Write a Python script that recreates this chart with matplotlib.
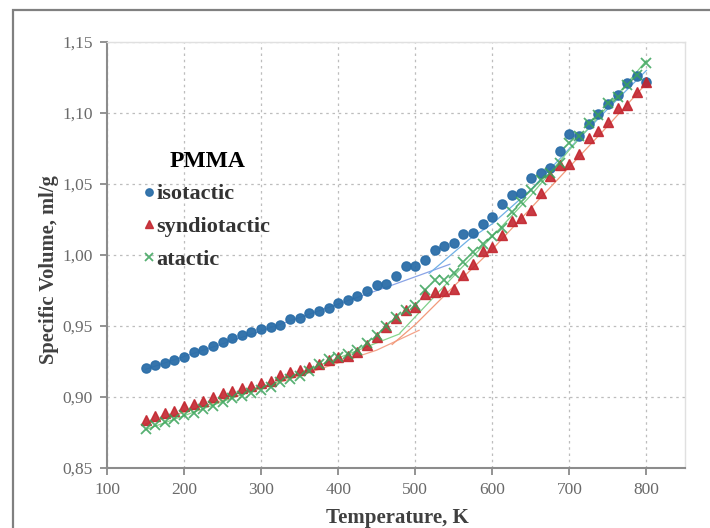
import numpy as np
import matplotlib
matplotlib.use('Agg')
import matplotlib.pyplot as plt
from matplotlib.patches import Rectangle
from matplotlib.ticker import FuncFormatter

# Temperature grid (K)
temps = [150, 162.5, 175, 187.5, 200, 212.5, 225, 237.5, 250, 262.5, 275, 287.5,
         300, 312.5, 325, 337.5, 350, 362.5, 375, 387.5, 400, 412.5, 425, 437.5,
         450, 462.5, 475, 487.5, 500, 512.5, 525, 537.5, 550, 562.5, 575, 587.5,
         600, 612.5, 625, 637.5, 650, 662.5, 675, 687.5, 700, 712.5, 725, 737.5,
         750, 762.5, 775, 787.5, 800]

isotactic = [0.9206, 0.9225, 0.9237, 0.9260, 0.9280, 0.9320, 0.9330, 0.9360, 0.9390,
             0.9413, 0.9437, 0.9460, 0.9477, 0.9495, 0.9507, 0.9547, 0.9554, 0.9594,
             0.9608, 0.9625, 0.9660, 0.9683, 0.9713, 0.9749, 0.9789, 0.9796, 0.9850,
             0.9920, 0.9920, 0.9965, 1.0035, 1.0063, 1.0087, 1.0146, 1.0153, 1.0218,
             1.0270, 1.0360, 1.0420, 1.0439, 1.0540, 1.0580, 1.0610, 1.0730, 1.0850,
             1.0838, 1.0920, 1.0990, 1.1060, 1.1130, 1.1210, 1.1260, 1.1220]

syndiotactic = [0.8835, 0.8865, 0.8885, 0.8905, 0.8935, 0.8950, 0.8970, 0.9000, 0.9030,
                0.9045, 0.9060, 0.9080, 0.9100, 0.9115, 0.9155, 0.9175, 0.9190, 0.9210,
                0.9235, 0.9260, 0.9285, 0.9290, 0.9320, 0.9365, 0.9420, 0.9490, 0.9555,
                0.9610, 0.9635, 0.9725, 0.9742, 0.9748, 0.9762, 0.9860, 0.9940, 1.0028,
                1.0056, 1.0140, 1.0242, 1.0258, 1.0317, 1.0435, 1.0553, 1.0634, 1.0643,
                1.0709, 1.0825, 1.0875, 1.0935, 1.1033, 1.1056, 1.1150, 1.1220]

atactic = [0.8775, 0.8800, 0.8825, 0.8845, 0.8870, 0.8890, 0.8915, 0.8940, 0.8965,
           0.8990, 0.9010, 0.9030, 0.9050, 0.9070, 0.9105, 0.9125, 0.9150, 0.9180,
           0.9230, 0.9265, 0.9285, 0.9300, 0.9330, 0.9380, 0.9435, 0.9500, 0.9565,
           0.9615, 0.9645, 0.9754, 0.9824, 0.9826, 0.9870, 0.9953, 1.0023, 1.0076,
           1.0134, 1.0188, 1.0305, 1.0375, 1.0458, 1.0528, 1.0575, 1.0650, 1.0790,
           1.0840, 1.0927, 1.0986, 1.1068, 1.1115, 1.1197, 1.1268, 1.1354]

# thin fit lines (glass and melt branches), vertices
iso_glass_t = [150, 300, 466, 545]
iso_glass_v = [0.9195, 0.9465, 0.9780, 0.9935]
iso_melt_t = [518, 570, 600, 650, 700, 750, 800]
iso_melt_v = [0.9870, 1.0110, 1.0220, 1.0460, 1.0750, 1.1030, 1.1300]

syn_glass_t = [150, 300, 450, 505]
syn_glass_v = [0.8810, 0.9060, 0.9330, 0.9470]
syn_melt_t = [470, 500, 550, 600, 650, 700, 750, 800]
syn_melt_v = [0.9370, 0.9510, 0.9780, 1.0040, 1.0330, 1.0620, 1.0910, 1.1210]

ata_glass_t = [150, 325, 480]
ata_glass_v = [0.8770, 0.9115, 0.9445]
ata_melt_t = [480, 520, 560, 600, 650, 700, 750, 800]
ata_melt_v = [0.9450, 0.9680, 0.9910, 1.0130, 1.0420, 1.0740, 1.1050, 1.1370]

x_ticks = [100, 200, 300, 400, 500, 600, 700, 800]
y_ticks = [0.85, 0.90, 0.95, 1.00, 1.05, 1.10, 1.15]

plt.rcParams['font.family'] = ['Liberation Serif', 'DejaVu Serif']

fig = plt.figure(figsize=(7.1, 5.28), dpi=100)
ax = fig.add_axes([0.1507, 0.1136, 0.8141, 0.8069])

# outer chart frame (only top and left edges fall inside the picture)
fig.patches.append(Rectangle((13 / 710, -0.2), 1.5, 1.2 - 10 / 528,
                             transform=fig.transFigure, fill=False,
                             edgecolor='#808080', lw=1.6))

c_iso, c_syn, c_ata = '#2b6ea8', '#c3262f', '#3aa35a'

ax.plot(iso_glass_t, iso_glass_v, color='#8aa4e6', lw=0.9)
ax.plot(iso_melt_t, iso_melt_v, color='#6fb0e6', lw=0.9)
ax.plot(syn_glass_t, syn_glass_v, color='#f4a38a', lw=0.9)
ax.plot(syn_melt_t, syn_melt_v, color='#f29a7a', lw=0.9)
ax.plot(ata_glass_t, ata_glass_v, color='#86d68a', lw=0.9)
ax.plot(ata_melt_t, ata_melt_v, color='#7fcf8a', lw=0.9)

ax.plot(temps, isotactic, 'o', color=c_iso, ms=6.6, mec=c_iso, alpha=0.95, label='isotactic')
ax.plot(temps, syndiotactic, '^', color=c_syn, ms=7, mec=c_syn, alpha=0.9, label='syndiotactic')
ax.plot(temps, atactic, 'x', color=c_ata, ms=6.5, mew=1.3, alpha=0.85, label='atactic')

ax.set_xlim(100, 850)
ax.set_ylim(0.85, 1.15)
ax.set_xticks(x_ticks)
ax.set_yticks(y_ticks)
ax.yaxis.set_major_formatter(FuncFormatter(lambda v, p: f'{v:.2f}'.replace('.', ',')))
ax.tick_params(axis='both', labelsize=12.5, colors='#808080', labelcolor='#6a6a6a',
               direction='out', length=5, width=1.2, pad=5)
ax.grid(True, color='#bdbdbd', ls=(0, (2, 3)), lw=0.9)
ax.set_axisbelow(True)

for s in ['left', 'bottom']:
    ax.spines[s].set_color('#8c8c8c')
    ax.spines[s].set_linewidth(1.5)
for s in ['top', 'right']:
    ax.spines[s].set_color('#e0e0e0')
    ax.spines[s].set_linewidth(1.0)

ax.set_xlabel('Temperature, K', fontsize=15, fontweight='bold', color='#404040')
ax.set_ylabel('Specific Volume, ml/g', fontsize=14.8, fontweight='bold', color='#404040')
ax.xaxis.set_label_coords(0.503, -0.093)
ax.yaxis.set_label_coords(-0.083, 0.465)

leg = ax.legend(loc='upper left', bbox_to_anchor=(0.049, 0.766), frameon=False,
                title='PMMA', prop={'weight': 'bold', 'size': 16},
                handletextpad=0.15, handlelength=0.4, labelspacing=0.55,
                borderaxespad=0, markerscale=0.8)
leg.get_title().set_fontsize(17)
leg.get_title().set_fontweight('bold')
for t in leg.get_texts():
    t.set_color('#333333')

fig.savefig('out.png', dpi=100)
